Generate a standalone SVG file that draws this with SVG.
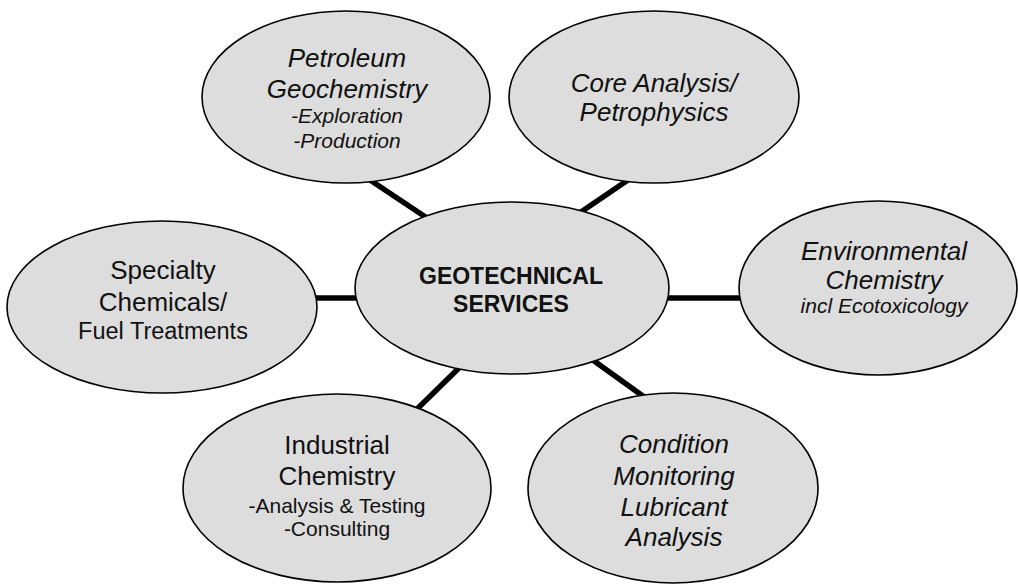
<svg xmlns="http://www.w3.org/2000/svg" width="1018" height="584" viewBox="0 0 1018 584">
<style>
.node ellipse{fill:#dddddd;stroke:#000;stroke-width:1.6}
.conn line{stroke:#000;stroke-width:5.5;stroke-linecap:butt}
text{font-family:"Liberation Sans",Arial,sans-serif;fill:#111;text-anchor:middle}
.t{font-size:26px}
.s{font-size:21px}
.i{font-style:italic}
.b{font-size:23px;font-weight:bold}
</style>
<rect width="1018" height="584" fill="#fff"/>
<g id="connectors" class="conn">
<line x1="370" y1="180" x2="430" y2="220"/>
<line x1="628" y1="180" x2="578" y2="214"/>
<line x1="312" y1="298" x2="362" y2="298"/>
<line x1="664" y1="298" x2="744" y2="298"/>
<line x1="461" y1="366" x2="414" y2="412"/>
<line x1="590" y1="358" x2="647" y2="399"/>
</g>
<g id="petroleum" class="node">
<ellipse cx="346" cy="97" rx="144" ry="86"/>
<text class="t i" x="347" y="67">Petroleum</text>
<text class="t i" x="347" y="98">Geochemistry</text>
<text class="s i" x="347" y="123">-Exploration</text>
<text class="s i" x="347" y="148">-Production</text>
</g>
<g id="core" class="node">
<ellipse cx="654" cy="97" rx="145" ry="86"/>
<text class="t i" x="654" y="92">Core Analysis/</text>
<text class="t i" x="654" y="121">Petrophysics</text>
</g>
<g id="specialty" class="node">
<ellipse cx="162" cy="307" rx="155" ry="86"/>
<text class="t" x="163" y="279">Specialty</text>
<text class="t" x="163" y="311">Chemicals/</text>
<text class="t" x="163" y="339" style="font-size:23.5px">Fuel Treatments</text>
</g>
<g id="geotechnical" class="node">
<ellipse cx="512" cy="288" rx="157" ry="86"/>
<text class="b" x="511" y="284">GEOTECHNICAL</text>
<text class="b" x="511" y="312">SERVICES</text>
</g>
<g id="environmental" class="node">
<ellipse cx="878" cy="288" rx="139" ry="87"/>
<text class="t i" x="884" y="260">Environmental</text>
<text class="t i" x="884" y="289">Chemistry</text>
<text class="s i" x="884" y="313">incl Ecotoxicology</text>
</g>
<g id="industrial" class="node">
<ellipse cx="337" cy="488" rx="154" ry="94"/>
<text class="t" x="337" y="454">Industrial</text>
<text class="t" x="337" y="485">Chemistry</text>
<text class="s" x="337" y="513">-Analysis &amp; Testing</text>
<text class="s" x="337" y="536">-Consulting</text>
</g>
<g id="condition" class="node">
<ellipse cx="673" cy="488" rx="145" ry="95"/>
<text class="t i" x="674" y="453">Condition</text>
<text class="t i" x="674" y="485">Monitoring</text>
<text class="t i" x="674" y="516">Lubricant</text>
<text class="t i" x="674" y="546">Analysis</text>
</g>
</svg>
